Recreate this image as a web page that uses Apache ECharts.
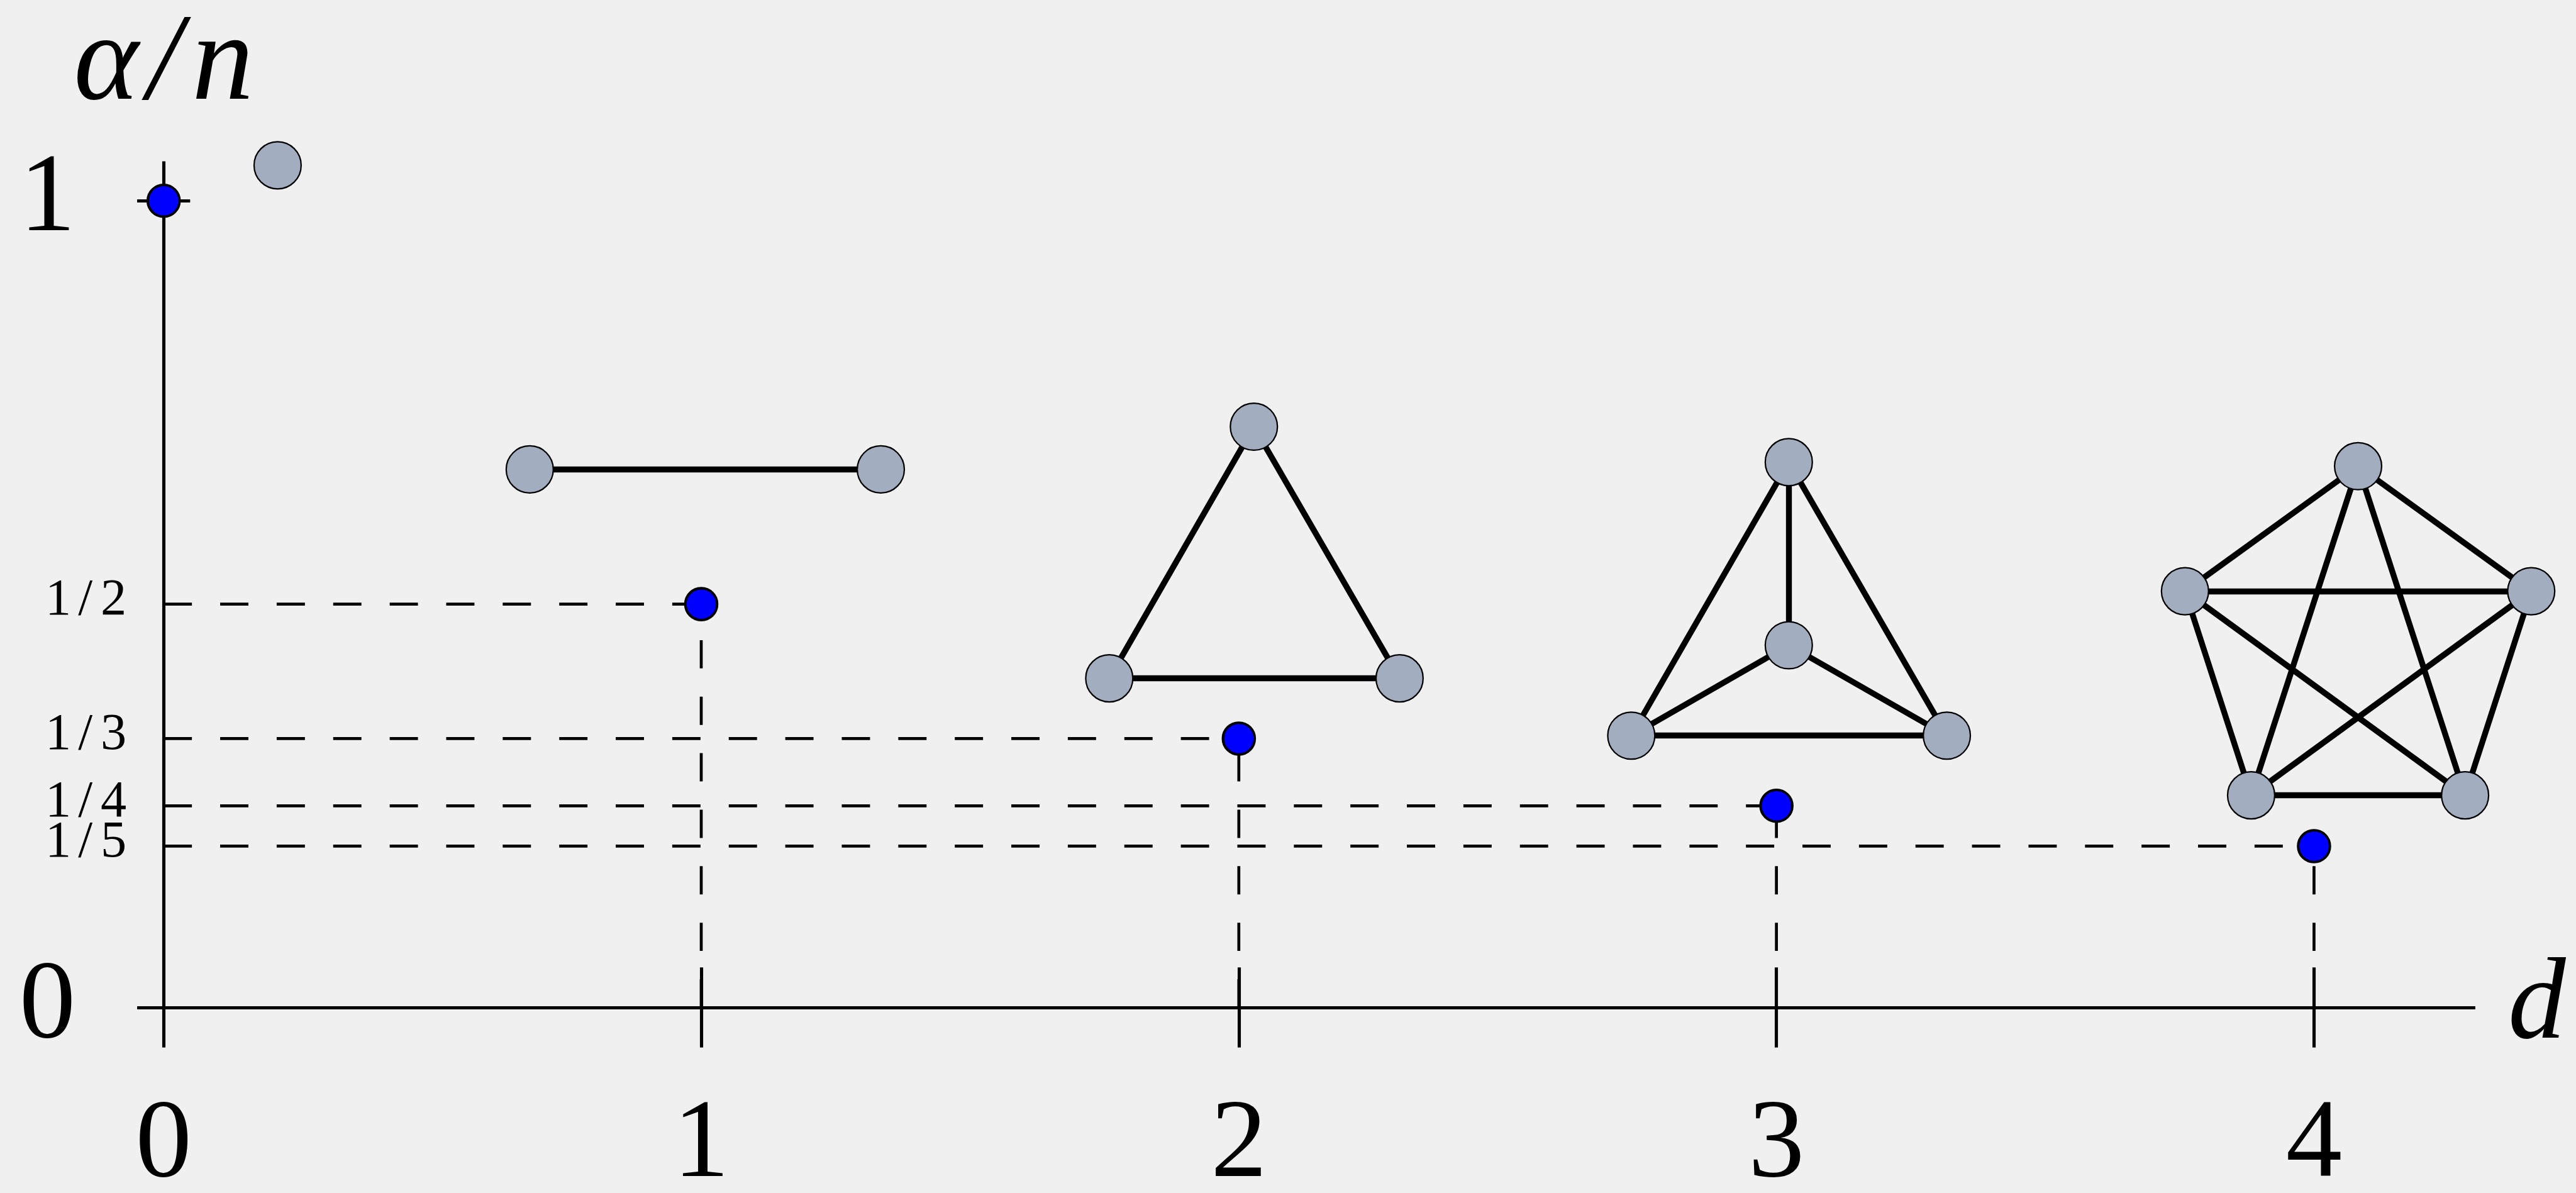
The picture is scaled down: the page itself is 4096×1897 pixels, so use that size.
<!DOCTYPE html>
<html>
<head>
<meta charset="utf-8">
<script src="https://cdn.jsdelivr.net/npm/echarts@6/dist/echarts.min.js"></script>
<style>
  html, body { margin: 0; padding: 0; background: #f0f0f0; }
  #chart { width: 4096px; height: 1897px; }
</style>
</head>
<body>
<div id="chart"></div>
<script>
// Independence ratio α/n of the complete graph K(d+1) against its degree d
const degrees = [0, 1, 2, 3, 4];
const ratios = [1, 1 / 2, 1 / 3, 1 / 4, 1 / 5];

const xTickValues = [0, 1, 2, 3, 4];
const xTickLabels = ['0', '1', '2', '3', '4'];
const yTickValues = [0, 1 / 5, 1 / 4, 1 / 3, 1 / 2, 1];
const yTickLabels = ['0', '1/5', '1/4', '1/3', '1/2', '1'];

// Small drawings of K1 .. K5, node positions given in (d, α/n) units
const k1Nodes = [[0.212, 1.044]];
const k1Edges = [];
const k2Nodes = [[0.681, 0.667], [1.334, 0.667]];
const k2Edges = [[0, 1]];
const k3Nodes = [[2.028, 0.720], [1.759, 0.408], [2.299, 0.408]];
const k3Edges = [[0, 1], [0, 2], [1, 2]];
const k4Nodes = [[3.023, 0.676], [3.023, 0.449], [2.730, 0.337], [3.317, 0.337]];
const k4Edges = [[0, 1], [0, 2], [0, 3], [1, 2], [1, 3], [2, 3]];
const k5Nodes = [[4.082, 0.671], [3.760, 0.516], [4.404, 0.516], [3.883, 0.263], [4.281, 0.263]];
const k5Edges = [[0, 1], [0, 2], [0, 3], [0, 4], [1, 2], [1, 3], [1, 4], [2, 3], [2, 4], [3, 4]];

const S = 0.936;              // drawing scale
const SERIF = 'Liberation Serif';
const AXIS_W = 5.5 * S;

function graphSeries(nodes, edges) {
  return {
    type: 'graph',
    coordinateSystem: 'cartesian2d',
    xAxisIndex: 0,
    yAxisIndex: 0,
    layout: 'none',
    silent: true,
    z: 3,
    symbol: 'circle',
    symbolSize: 80 * S,
    itemStyle: { color: '#a2aebf', borderColor: '#000', borderWidth: 2.4 * S, opacity: 1 },
    lineStyle: { color: '#000', width: 10 * S, opacity: 1, curveness: 0 },
    label: { show: false },
    emphasis: { disabled: true },
    data: nodes.map(p => ({ value: p })),
    links: edges.map(e => ({ source: e[0], target: e[1] }))
  };
}

function guide(points) {
  return {
    type: 'line',
    xAxisIndex: 0,
    yAxisIndex: 0,
    data: points,
    symbol: 'none',
    showSymbol: false,
    silent: true,
    clip: false,
    z: 2,
    lineStyle: { color: '#000', width: 5 * S, type: [48 * S, 48 * S], cap: 'butt' }
  };
}

const series = [];
// dashed guides: from the y-axis across, and from the d-axis up to each point
degrees.forEach((d, i) => {
  if (d === 0) return;
  series.push(guide([[0, ratios[i]], [d, ratios[i]]]));
  series.push(guide([[d, 0], [d, ratios[i]]]));
});
[[k1Nodes, k1Edges], [k2Nodes, k2Edges], [k3Nodes, k3Edges], [k4Nodes, k4Edges], [k5Nodes, k5Edges]]
  .forEach(([n, e]) => series.push(graphSeries(n, e)));
series.push({
  type: 'scatter',
  xAxisIndex: 0,
  yAxisIndex: 0,
  data: degrees.map((d, i) => [d, ratios[i]]),
  symbol: 'circle',
  symbolSize: 54 * S,
  clip: false,
  silent: true,
  z: 5,
  itemStyle: { color: '#0000ff', borderColor: '#000', borderWidth: 4.3 * S, opacity: 1 }
});

const X_MAX = 4.3, Y_MAX = 1.049;
const X_TICK = 68 * S, Y_TICK = 45 * S;

function yLabel(v) {
  const i = yTickValues.findIndex(t => Math.abs(t - v) < 1e-6);
  const s = i < 0 ? '' : yTickLabels[i];
  if (s.indexOf('/') >= 0) {
    const [a, b] = s.split('/');
    return '{f|' + a + '}{sl|/}{f|' + b + '}';
  }
  return '{big|' + s + '}';
}
function xLabel(v) {
  const i = xTickValues.findIndex(t => Math.abs(t - v) < 1e-6);
  return i < 0 ? '' : xTickLabels[i];
}

const option = {
  backgroundColor: '#f0f0f0',
  animation: false,
  grid: {
    left: 278 * S,
    right: 4096 - 4205 * S,
    top: 274 * S,
    bottom: 1897 - 1711.5 * S,
    containLabel: false,
    outerBoundsMode: 'none'
  },
  xAxis: [
    {
      type: 'value', position: 'bottom', min: 0, max: X_MAX,
      name: 'd', nameLocation: 'end', nameGap: 52, nameMoveOverlap: false,
      nameTextStyle: { fontFamily: SERIF, fontStyle: 'italic', fontSize: 196 * S, color: '#000' },
      axisLine: { show: true, onZero: false, lineStyle: { color: '#000', width: AXIS_W, cap: 'butt' } },
      axisTick: { show: true, customValues: xTickValues, length: X_TICK, inside: false, lineStyle: { color: '#000', width: AXIS_W } },
      axisLabel: {
        show: true, customValues: xTickValues, formatter: xLabel, margin: 221,
        verticalAlign: 'middle', fontFamily: SERIF, fontSize: 191 * S, color: '#000'
      },
      splitLine: { show: false }
    },
    {
      type: 'value', position: 'bottom', min: 0, max: X_MAX,
      axisLine: { show: false, onZero: false },
      axisTick: { show: true, customValues: xTickValues.slice(1), length: X_TICK, inside: true, lineStyle: { color: '#000', width: AXIS_W } },
      axisLabel: { show: false },
      splitLine: { show: false }
    }
  ],
  yAxis: [
    {
      type: 'value', position: 'left', min: 0, max: Y_MAX,
      name: '{a|α}{s|/}{a|n}', nameLocation: 'end', nameGap: 53, nameMoveOverlap: false,
      nameTextStyle: {
        color: '#000',
        rich: {
          a: { fontFamily: SERIF, fontStyle: 'italic', fontSize: 210 * S, color: '#000' },
          s: { fontFamily: SERIF, fontStyle: 'italic', fontSize: 210 * S, color: '#000', padding: [0, 16, 0, 14] }
        }
      },
      axisLine: { show: true, onZero: false, lineStyle: { color: '#000', width: AXIS_W, cap: 'butt' } },
      axisTick: { show: true, customValues: [0, 1], length: Y_TICK, inside: false, lineStyle: { color: '#000', width: AXIS_W } },
      axisLabel: {
        show: true, customValues: yTickValues, formatter: yLabel, margin: 59,
        rich: {
          big: { fontFamily: SERIF, fontSize: 191 * S, color: '#000', padding: [0, 81, 0, 0] },
          f: { fontFamily: SERIF, fontSize: 88 * S, color: '#000', padding: [0, 0, 10, 0] },
          sl: { fontFamily: SERIF, fontSize: 88 * S, color: '#000', padding: [0, 13, 10, 11] }
        }
      },
      splitLine: { show: false }
    },
    {
      type: 'value', position: 'left', min: 0, max: Y_MAX,
      axisLine: { show: false, onZero: false },
      axisTick: { show: true, customValues: [1], length: Y_TICK, inside: true, lineStyle: { color: '#000', width: AXIS_W } },
      axisLabel: { show: false },
      splitLine: { show: false }
    }
  ],
  series: series
};

const chart = echarts.init(document.getElementById('chart'), null, { renderer: 'canvas' });
chart.setOption(option);
</script>
</body>
</html>
